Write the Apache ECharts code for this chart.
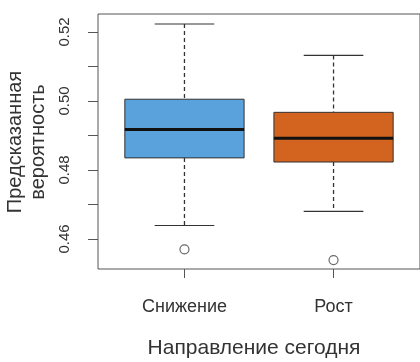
<!DOCTYPE html>
<html><head><meta charset="utf-8">
<script src="https://cdn.jsdelivr.net/npm/echarts@6/dist/echarts.min.js"></script>
<style>html,body{margin:0;padding:0;background:#fff}#c{width:420px;height:362px}</style>
</head><body><div id="c"></div>
<script>
const categories = ['Снижение', 'Рост'];
const whiskerLow = [0.4639, 0.4680];
const q1 = [0.4835, 0.4823];
const median = [0.4917, 0.4892];
const q3 = [0.5005, 0.4967];
const whiskerHigh = [0.5223, 0.5132];
const outliers = [[1, 0.4570], [2, 0.4539]];
const yTicks = [0.46, 0.47, 0.48, 0.49, 0.50, 0.51, 0.52];
const yLabels = [0.46, 0.48, 0.50, 0.52];
const colors = ['#5aa2db', '#d2641f'];

const boxData = categories.map((c, i) => [i + 1, whiskerLow[i], q1[i], median[i], q3[i], whiskerHigh[i]]);
const FONT = '"Liberation Sans", Arial, sans-serif';

const chart = echarts.init(document.getElementById('c'), null, {renderer: 'canvas'});
chart.setOption({
  animation: false,
  grid: {left: 98, top: 14, width: 326, height: 255, show: true, borderColor: '#555', borderWidth: 1, backgroundColor: 'transparent'},
  xAxis: {
    type: 'value', min: 0.42, max: 2.58,
    axisLine: {show: false}, splitLine: {show: false},
    axisTick: {show: true, customValues: [1, 2], length: 9, lineStyle: {color: '#555'}},
    axisLabel: {customValues: [1, 2], formatter: v => categories[Math.round(v) - 1], color: '#333', fontSize: 18, fontFamily: FONT, margin: 29}
  },
  yAxis: {
    type: 'value', min: 0.4513, max: 0.5252,
    axisLine: {show: false}, splitLine: {show: false},
    axisTick: {show: true, customValues: yTicks, length: 10, lineStyle: {color: '#555'}},
    axisLabel: {customValues: yLabels, formatter: v => v.toFixed(2), rotate: 90, color: '#333', fontSize: 15, fontFamily: FONT, margin: 26}
  },
  graphic: [
    {type: 'text', x: 27, y: 142, rotation: Math.PI / 2, style: {text: 'Предсказанная\nвероятность', fill: '#333', font: '20px ' + FONT, align: 'center', verticalAlign: 'middle', lineHeight: 23}},
    {type: 'text', x: 254, y: 348, style: {text: 'Направление сегодня', fill: '#333', font: '21px ' + FONT, align: 'center', verticalAlign: 'middle'}}
  ],
  series: [
    {
      type: 'custom',
      data: boxData,
      renderItem: function (params, api) {
        const x = api.value(0), lo = api.value(1), a = api.value(2), m = api.value(3), b = api.value(4), hi = api.value(5);
        const hw = 0.4, cw = 0.2;
        const col = colors[params.dataIndex];
        const p = (xx, yy) => api.coord([xx, yy]);
        const tl = p(x - hw, b), br = p(x + hw, a);
        const ml = p(x - hw, m), mr = p(x + hw, m);
        const top = p(x, hi), topB = p(x, b), bot = p(x, lo), botA = p(x, a);
        const capT1 = p(x - cw, hi), capT2 = p(x + cw, hi);
        const capB1 = p(x - cw, lo), capB2 = p(x + cw, lo);
        const dash = {stroke: '#333', lineWidth: 1.3, lineDash: [4, 3]};
        const solid = {stroke: '#333', lineWidth: 1.2};
        return {type: 'group', children: [
          {type: 'line', shape: {x1: top[0], y1: top[1], x2: topB[0], y2: topB[1]}, style: dash},
          {type: 'line', shape: {x1: botA[0], y1: botA[1], x2: bot[0], y2: bot[1]}, style: dash},
          {type: 'line', shape: {x1: capT1[0], y1: capT1[1], x2: capT2[0], y2: capT2[1]}, style: solid},
          {type: 'line', shape: {x1: capB1[0], y1: capB1[1], x2: capB2[0], y2: capB2[1]}, style: solid},
          {type: 'rect', shape: {x: tl[0], y: tl[1], width: br[0] - tl[0], height: br[1] - tl[1]}, style: {fill: col, stroke: '#333', lineWidth: 1}},
          {type: 'line', shape: {x1: ml[0], y1: ml[1], x2: mr[0], y2: mr[1]}, style: {stroke: '#111', lineWidth: 3}}
        ]};
      }
    },
    {
      type: 'scatter', data: outliers, symbol: 'circle', symbolSize: 9,
      itemStyle: {color: '#fff', borderColor: '#444', borderWidth: 1.2}
    }
  ]
});
</script></body></html>
